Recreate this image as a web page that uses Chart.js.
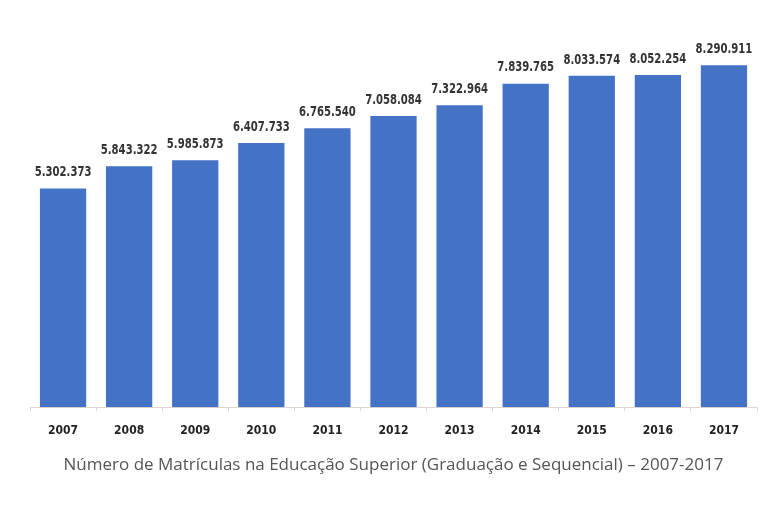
<!DOCTYPE html>
<html>
<head>
<meta charset="utf-8">
<script src="https://cdn.jsdelivr.net/npm/chart.js@4/dist/chart.umd.min.js"></script>
<style>
  html, body { margin: 0; padding: 0; background: #fff; }
  #wrap { width: 773px; height: 518px; }
</style>
</head>
<body>
<div id="wrap"><canvas id="myChart" width="773" height="518"></canvas></div>
<script>
// anos e matrículas
const anos = ['2007', '2008', '2009', '2010', '2011', '2012', '2013', '2014', '2015', '2016', '2017'];
const matriculas = [5302373, 5843322, 5985873, 6407733, 6765540, 7058084, 7322964, 7839765, 8033574, 8052254, 8290911];
const rotulos = ['5.302.373', '5.843.322', '5.985.873', '6.407.733', '6.765.540', '7.058.084', '7.322.964', '7.839.765', '8.033.574', '8.052.254', '8.290.911'];
const titulo = 'Número de Matrículas na Educação Superior (Graduação e Sequencial) – 2007-2017';

const fonteEstreita = '"DejaVu Sans Condensed", "DejaVu Sans", sans-serif';

// escreve o valor acima de cada barra (texto um pouco comprimido na horizontal)
const valoresPlugin = {
    id: 'valores',
    afterDatasetsDraw(chart) {
        const ctx = chart.ctx;
        const meta = chart.getDatasetMeta(0);
        const escala = 0.8;
        ctx.save();
        ctx.font = 'bold 14px ' + fonteEstreita;
        ctx.fillStyle = '#333333';
        ctx.textAlign = 'center';
        ctx.textBaseline = 'bottom';
        ctx.scale(escala, 1);
        meta.data.forEach(function(bar, i) {
            ctx.fillText(rotulos[i], bar.x / escala, bar.y - 9);
        });
        ctx.restore();
    }
};

const ctx = document.getElementById('myChart').getContext('2d');
new Chart(ctx, {
    type: 'bar',
    data: {
        labels: anos,
        datasets: [{
            data: matriculas,
            backgroundColor: '#4472c4',
            barPercentage: 0.7,
            categoryPercentage: 1.0
        }]
    },
    options: {
        responsive: false,
        animation: false,
        layout: { padding: { left: 30, right: 16, top: 36, bottom: 43 } },
        plugins: {
            legend: { display: false },
            tooltip: { enabled: false },
            title: {
                display: true,
                text: titulo,
                position: 'bottom',
                color: '#555555',
                font: { family: '"Open Sans", sans-serif', size: 17, weight: 'normal' },
                padding: { top: 5, bottom: 0 }
            }
        },
        scales: {
            x: {
                grid: {
                    display: true,
                    drawOnChartArea: false,
                    drawTicks: true,
                    tickLength: 4,
                    offset: true,
                    color: '#e0d8d0'
                },
                border: { display: true, color: '#e0d8d0' },
                ticks: {
                    color: '#222222',
                    padding: 12,
                    font: { family: fonteEstreita, size: 12, weight: 'bold' }
                }
            },
            y: {
                display: false,
                min: 0,
                max: 9000000
            }
        }
    },
    plugins: [valoresPlugin]
});
</script>
</body>
</html>
